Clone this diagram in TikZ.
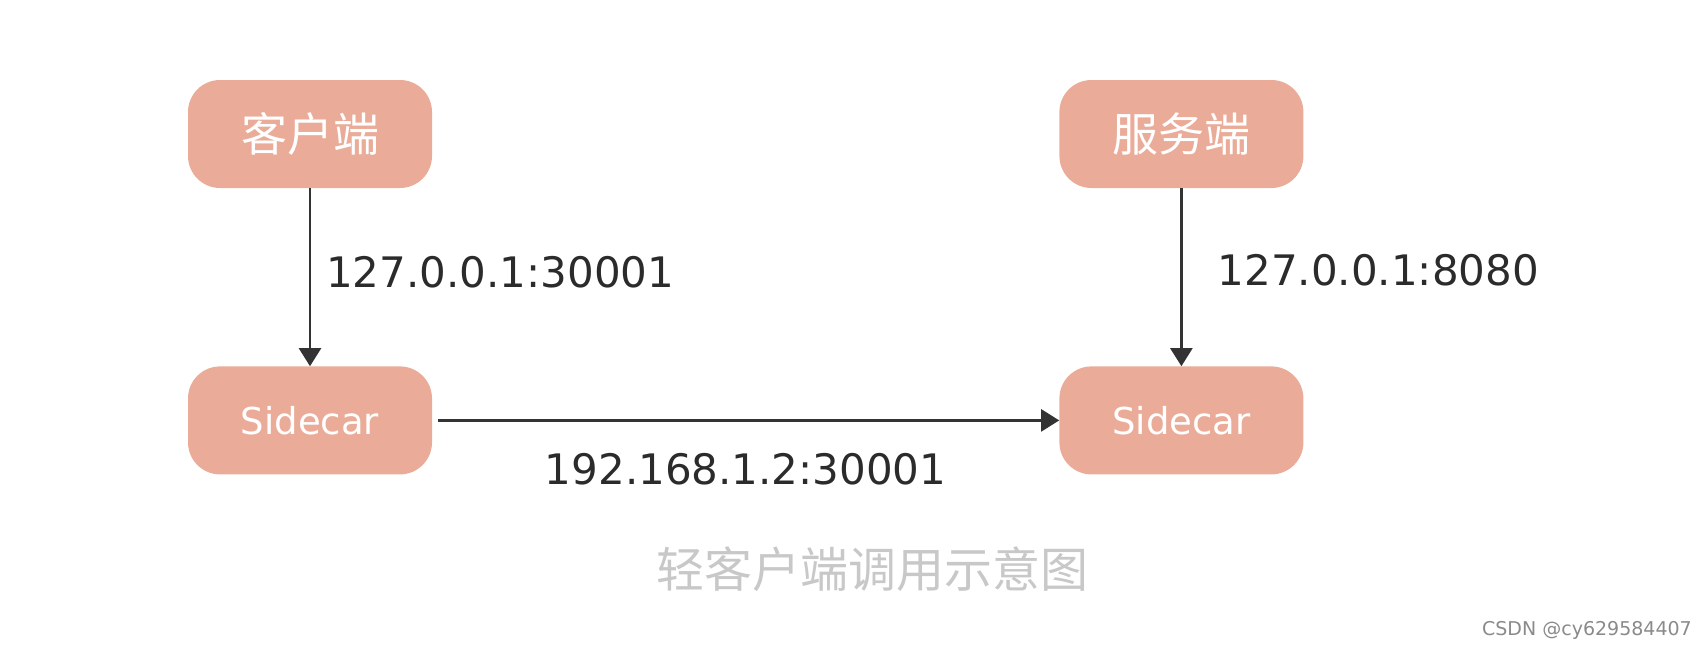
\documentclass[tikz,border=0pt]{standalone}
\usepackage{fontspec}
\setmainfont{DejaVu Sans}
\newfontfamily\cjk{Noto Sans CJK SC}
\usepackage{xcolor}
\usepackage{tikz}
\usetikzlibrary{arrows.meta, positioning}

\definecolor{boxfill}{HTML}{EAAC99}
\definecolor{linegray}{HTML}{333333}
\definecolor{textdark}{HTML}{2B2B2B}
\definecolor{capgray}{HTML}{C8C8C8}
\definecolor{markgray}{HTML}{8A8A8A}

\begin{document}
\begin{tikzpicture}[
  x=1pt, y=1pt,
  node distance=178pt and 627pt,
  every node/.style={inner sep=0pt},
  box/.style={rectangle, rounded corners=32pt, fill=boxfill, minimum width=244pt, minimum height=108pt, align=center, text=white},
  link/.style={-{Triangle[width=22pt,length=18pt]}, line width=2.4pt, draw=linegray},
  addr/.style={font=\fontsize{42}{46}\selectfont, text=textdark}
]
\useasboundingbox (0,0) rectangle (1708,-648);

% Client and server side
\node[box, font=\cjk\fontsize{46}{50}\selectfont] (client) at (310,-134) {客户端};
\node[box, font=\cjk\fontsize{46}{50}\selectfont, right=of client] (server) {服务端};

% Sidecars
\node[box, font=\fontsize{37}{40}\selectfont, below=of client] (carL) {Sidecar};
\node[box, font=\fontsize{37}{40}\selectfont, below=of server] (carR) {Sidecar};

% Arrows
\draw[link] (client) -- node[addr, right=15pt, yshift=5pt] {127.0.0.1:30001} (carL);
\draw[link] (server) -- node[addr, right=35pt, yshift=7pt] {127.0.0.1:8080} (carR);
\draw[link, shorten <=6pt] (carL) -- node[addr, below=32pt] {192.168.1.2:30001} (carR);

% Caption
\node[font=\cjk\fontsize{48}{52}\selectfont, text=capgray] (caption) at (872,-569) {轻客户端调用示意图};
\node[font=\fontsize{19}{22}\selectfont, text=markgray, anchor=east] (mark) at (1692,-630) {CSDN @cy629584407};
\end{tikzpicture}
\end{document}
